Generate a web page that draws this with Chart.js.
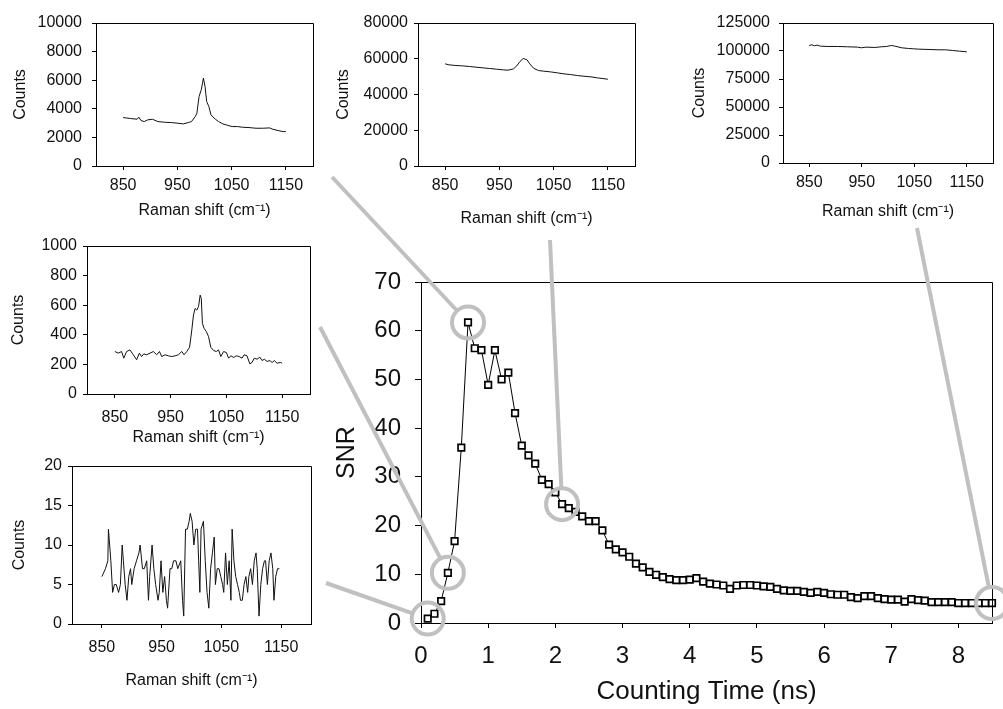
<!DOCTYPE html>
<html>
<head>
<meta charset="utf-8">
<script src="https://cdn.jsdelivr.net/npm/chart.js@4.4.1/dist/chart.umd.min.js"></script>
<style>
  body { margin: 0; background: #fff; }
  #page { position: relative; width: 1003px; height: 709px; overflow: hidden; background: #fff; }
  #page canvas { position: absolute; }
  #overlay { left: 0; top: 0; pointer-events: none; }
</style>
</head>
<body>
<div id="page">
  <canvas id="spec07" width="330" height="230" style="left:0;top:0"></canvas>
  <canvas id="spec21" width="330" height="235" style="left:330px;top:0"></canvas>
  <canvas id="spec85" width="343" height="230" style="left:660px;top:0"></canvas>
  <canvas id="spec04" width="330" height="225" style="left:0;top:230px"></canvas>
  <canvas id="spec01" width="330" height="259" style="left:0;top:450px"></canvas>
  <canvas id="snrChart" width="673" height="449" style="left:330px;top:260px"></canvas>
  <canvas id="overlay" width="1003" height="709"></canvas>
</div>
<script>
// SNR vs counting time
const timeNs = [0.1, 0.2, 0.3, 0.4, 0.5, 0.6, 0.7, 0.8, 0.9, 1.0,
  1.1, 1.2, 1.3, 1.4, 1.5, 1.6, 1.7, 1.8, 1.9, 2.0,
  2.1, 2.2, 2.3, 2.4, 2.5, 2.6, 2.7, 2.8, 2.9, 3.0,
  3.1, 3.2, 3.3, 3.4, 3.5, 3.6, 3.7, 3.8, 3.9, 4.0,
  4.1, 4.2, 4.3, 4.4, 4.5, 4.6, 4.7, 4.8, 4.9, 5.0,
  5.1, 5.2, 5.3, 5.4, 5.5, 5.6, 5.7, 5.8, 5.9, 6.0,
  6.1, 6.2, 6.3, 6.4, 6.5, 6.6, 6.7, 6.8, 6.9, 7.0,
  7.1, 7.2, 7.3, 7.4, 7.5, 7.6, 7.7, 7.8, 7.9, 8.0,
  8.1, 8.2, 8.3, 8.4, 8.5];
const snr = [0.9, 1.9, 4.5, 10.3, 16.8, 36.0, 61.7, 56.4, 56.0, 48.9,
  56.0, 50.0, 51.4, 43.1, 36.4, 34.4, 32.7, 29.4, 28.5, 26.8,
  24.4, 23.6, 22.8, 21.9, 20.9, 20.9, 19.0, 16.1, 15.1, 14.5,
  13.6, 12.2, 11.4, 10.5, 9.9, 9.4, 9.0, 8.8, 8.8, 8.9,
  9.2, 8.5, 8.1, 7.9, 7.7, 7.0, 7.7, 7.8, 7.8, 7.7,
  7.5, 7.4, 7.0, 6.7, 6.6, 6.6, 6.4, 6.2, 6.4, 6.2,
  5.9, 5.8, 5.8, 5.3, 5.1, 5.5, 5.5, 5.1, 4.9, 4.8,
  4.8, 4.4, 4.9, 4.7, 4.6, 4.3, 4.3, 4.3, 4.3, 4.1,
  4.1, 4.1, 4.1, 4.1, 4.1];
const timeTicks = [0, 1, 2, 3, 4, 5, 6, 7, 8];
const snrTicks = [0, 10, 20, 30, 40, 50, 60, 70];

// spectra at the circled times
const shiftTicks = [850, 950, 1050, 1150];

const spec07Shift = [850, 864, 876, 879, 883, 889, 895, 904, 914, 926, 939, 951, 961, 970, 976, 983, 986, 990, 994, 998,
  1001, 1004, 1008, 1012, 1020, 1026, 1034, 1042, 1051, 1061, 1070, 1082, 1095, 1107, 1120, 1126, 1136, 1145, 1150];
const spec07Counts = [3388, 3318, 3271, 3411, 3178, 3107, 3224, 3271, 3107, 3061, 3037, 2991, 2944, 3037, 3107, 3458, 3692, 4860, 5327, 6145,
  5561, 4509, 4159, 3575, 3271, 3107, 2944, 2850, 2757, 2757, 2710, 2687, 2640, 2640, 2664, 2570, 2477, 2407, 2407];
const spec07Ticks = [0, 2000, 4000, 6000, 8000, 10000];

const spec21Shift = [850, 857, 870, 882, 895, 907, 920, 932, 945, 957, 966, 976, 982, 988, 994,
  1001, 1006, 1013, 1022, 1032, 1044, 1057, 1069, 1081, 1094, 1106, 1119, 1131, 1141, 1150];
const spec21Counts = [57150, 56600, 56220, 56030, 55660, 55280, 54900, 54530, 54160, 53780, 53600, 54350, 56030, 58470, 60150,
  59400, 57150, 54720, 53410, 53040, 52660, 52100, 51540, 51160, 50600, 50220, 49850, 49290, 48910, 48540];
const spec21Ticks = [0, 20000, 40000, 60000, 80000];

const spec85Shift = [850, 855, 860, 865, 871, 884, 904, 923, 942, 949, 958, 975, 987,
  997, 1007, 1013, 1026, 1039, 1049, 1058, 1078, 1097, 1110, 1123, 1136, 1150];
const spec85Counts = [104950, 105550, 104650, 105250, 104350, 104050, 104050, 103750, 103450, 102860, 103450, 103150, 103750,
  104050, 104950, 104350, 102860, 102260, 101960, 101660, 101360, 101060, 101060, 100460, 99870, 99270];
const spec85Ticks = [0, 25000, 50000, 75000, 100000, 125000];

const spec04Shift = [850, 856, 862, 866, 871, 877, 883, 889, 894, 898, 902, 907, 913, 919, 925, 930, 934, 940, 946, 952,
  958, 964, 970, 974, 979, 984, 988, 991, 994, 997, 1000, 1003, 1005, 1007, 1010, 1014, 1018, 1022, 1027, 1032,
  1036, 1040, 1045, 1050, 1054, 1058, 1063, 1068, 1073, 1078, 1082, 1087, 1092, 1096, 1100, 1105, 1110, 1114, 1118, 1123,
  1128, 1132, 1136, 1141, 1147, 1150];
const spec04Counts = [287, 276, 287, 242, 287, 298, 265, 231, 276, 253, 271, 265, 276, 287, 265, 287, 253, 265, 258, 253,
  258, 265, 287, 265, 287, 316, 433, 534, 578, 567, 590, 668, 646, 478, 444, 422, 388, 316, 294, 287,
  298, 253, 287, 280, 242, 258, 247, 258, 253, 242, 265, 258, 204, 213, 242, 235, 249, 226, 235, 220,
  226, 213, 226, 208, 213, 208];
const spec04Ticks = [0, 200, 400, 600, 800, 1000];

const spec01Shift = [850, 856, 860, 861, 863, 865, 868, 871, 874, 878, 881, 884, 886, 889, 892, 895, 898, 900, 904, 908,
  912, 914, 918, 921, 925, 928, 930, 934, 937, 940, 944, 946, 949, 952, 955, 958, 960, 964, 967, 970,
  974, 977, 982, 985, 987, 990, 993, 996, 998, 1001, 1004, 1007, 1010, 1012, 1014, 1016, 1020, 1023, 1026, 1029,
  1032, 1035, 1038, 1040, 1043, 1046, 1049, 1052, 1054, 1057, 1060, 1063, 1066, 1068, 1071, 1074, 1077, 1080, 1082, 1085,
  1088, 1091, 1094, 1096, 1099, 1102, 1105, 1108, 1110, 1113, 1116, 1119, 1122, 1124, 1127, 1130, 1133, 1136, 1138, 1141,
  1144, 1147];
const spec01Counts = [6, 7, 8, 12, 10, 8, 4, 5, 5, 4, 5, 10, 8, 5, 3, 6, 7, 5, 7, 8,
  9, 10, 7, 7, 8, 3, 6, 10, 7, 5, 3, 4, 8, 4, 6, 3, 2, 7, 7, 8,
  8, 7, 8, 3, 1, 12, 12, 13, 14, 13, 10, 12, 12, 8, 4, 12, 13, 8, 4, 2,
  7, 9, 11, 5, 7, 7, 6, 5, 4, 9, 5, 8, 3, 12, 8, 6, 5, 4, 3, 3,
  5, 6, 4, 6, 7, 5, 8, 9, 7, 1, 5, 7, 8, 8, 5, 8, 9, 7, 3, 6,
  7, 7];
const spec01Ticks = [0, 5, 10, 15, 20];

// which points are circled, and where each grey link leaves its inset
const circledTimes = [0.1, 0.4, 0.7, 2.1, 8.5];
const linkFrom = [[326, 583], [320, 327], [332, 177], [550, 240], [917, 228]];

const FONT = "'Liberation Sans', Arial, sans-serif";
const INK = '#111';

Chart.defaults.font.family = FONT;
Chart.defaults.color = INK;

// draws the frame round the plot area (top and right sides)
const frame = {
  id: 'frame',
  afterDraw(chart) {
    const a = chart.chartArea;
    const ctx = chart.ctx;
    ctx.save();
    ctx.strokeStyle = '#000';
    ctx.lineWidth = 1;
    const l = Math.round(a.left) + 0.5, r = Math.round(a.right) + 0.5;
    const t = Math.round(a.top) + 0.5, b = Math.round(a.bottom) + 0.5;
    ctx.beginPath();
    ctx.moveTo(l, t);
    ctx.lineTo(r, t);
    ctx.lineTo(r, b);
    ctx.stroke();
    ctx.restore();
  }
};

// fixed axis sizes, so the plot area lands where the figure has it
function fixWidth(w) {
  return (s) => { s.width = w; s.paddingTop = 0; s.paddingBottom = 0; };
}
function fixHeight(h) {
  return (s) => { s.height = h; s.paddingLeft = 0; s.paddingRight = 0; };
}

function makeInset(id, shift, counts, yTicks, g) {
  const pts = [];
  for (let i = 0; i < shift.length; i++) {
    pts.push({ x: shift[i], y: counts[i] });
  }
  return new Chart(document.getElementById(id), {
    type: 'line',
    data: {
      datasets: [{
        data: pts,
        borderColor: '#111',
        borderWidth: 1,
        pointRadius: 0,
        tension: 0,
      }],
    },
    options: {
      responsive: false,
      animation: false,
      devicePixelRatio: 1,
      events: [],
      layout: { padding: { left: 0, top: g.top, right: g.right, bottom: 0 } },
      plugins: { legend: { display: false }, tooltip: { enabled: false } },
      scales: {
        x: {
          type: 'linear',
          min: 800,
          max: 1200,
          afterBuildTicks: (s) => { s.ticks = shiftTicks.map((v) => ({ value: v })); },
          afterFit: fixHeight(g.xH),
          grid: { drawOnChartArea: false, drawTicks: true, tickLength: 4, color: '#000' },
          border: { display: true, color: '#000', width: 1 },
          ticks: { font: { size: 16 }, padding: g.xPad, maxRotation: 0, callback: (v) => String(v) },
          title: { display: true, text: 'Raman shift (cm⁻¹)', font: { size: 16 }, padding: { top: 0, bottom: g.xTitle } },
        },
        y: {
          min: 0,
          max: yTicks[yTicks.length - 1],
          afterBuildTicks: (s) => { s.ticks = yTicks.map((v) => ({ value: v })); },
          afterFit: fixWidth(g.yW),
          grid: { drawOnChartArea: false, drawTicks: true, tickLength: 4, color: '#000' },
          border: { display: true, color: '#000', width: 1 },
          ticks: { font: { size: 16 }, padding: g.yPad, callback: (v) => String(v) },
          title: { display: true, text: 'Counts', font: { size: 16 }, padding: { top: g.yTitle, bottom: 0 } },
        },
      },
    },
    plugins: [frame],
  });
}

makeInset('spec07', spec07Shift, spec07Counts, spec07Ticks, { top: 23, right: 17, xH: 64, yW: 96, xPad: 6, yPad: 10, xTitle: 10, yTitle: 11 });
makeInset('spec21', spec21Shift, spec21Counts, spec21Ticks, { top: 23, right: 25, xH: 69, yW: 88, xPad: 6, yPad: 6, xTitle: 7, yTitle: 4 });
makeInset('spec85', spec85Shift, spec85Counts, spec85Ticks, { top: 23, right: 10, xH: 67, yW: 123, xPad: 6, yPad: 9, xTitle: 9, yTitle: 30 });
makeInset('spec04', spec04Shift, spec04Counts, spec04Ticks, { top: 16, right: 20, xH: 61, yW: 87, xPad: 10, yPad: 6, xTitle: 8, yTitle: 9 });
makeInset('spec01', spec01Shift, spec01Counts, spec01Ticks, { top: 16, right: 19, xH: 85, yW: 72, xPad: 10, yPad: 6, xTitle: 19, yTitle: 10 });

// grey circles and link lines, placed from the main chart's scales
const links = {
  id: 'links',
  afterDraw(chart) {
    const ov = document.getElementById('overlay');
    const ctx = ov.getContext('2d');
    const ox = chart.canvas.offsetLeft, oy = chart.canvas.offsetTop;
    const r = 16;
    ctx.clearRect(0, 0, ov.width, ov.height);
    ctx.strokeStyle = '#c0c0c0';
    ctx.lineWidth = 4;
    for (let i = 0; i < circledTimes.length; i++) {
      const k = timeNs.indexOf(circledTimes[i]);
      const cx = ox + chart.scales.x.getPixelForValue(timeNs[k]);
      const cy = oy + chart.scales.y.getPixelForValue(snr[k]);
      const sx = linkFrom[i][0], sy = linkFrom[i][1];
      const dx = cx - sx, dy = cy - sy;
      const len = Math.sqrt(dx * dx + dy * dy);
      ctx.beginPath();
      ctx.moveTo(sx, sy);
      ctx.lineTo(cx - dx / len * r, cy - dy / len * r);
      ctx.stroke();
      ctx.beginPath();
      ctx.arc(cx, cy, r, 0, Math.PI * 2);
      ctx.stroke();
    }
  }
};

const snrPoints = [];
for (let i = 0; i < timeNs.length; i++) {
  snrPoints.push({ x: timeNs[i], y: snr[i] });
}

new Chart(document.getElementById('snrChart'), {
  type: 'line',
  data: {
    datasets: [{
      data: snrPoints,
      borderColor: '#000',
      borderWidth: 1,
      pointStyle: 'rect',
      pointRadius: 4.6,
      pointBorderWidth: 1.7,
      pointBackgroundColor: '#fff',
      pointBorderColor: '#000',
      tension: 0,
      clip: false,
    }],
  },
  options: {
    responsive: false,
    animation: false,
    devicePixelRatio: 1,
    events: [],
    layout: { padding: { left: 0, top: 22, right: 11, bottom: 0 } },
    plugins: { legend: { display: false }, tooltip: { enabled: false } },
    scales: {
      x: {
        type: 'linear',
        min: 0,
        max: 8.5,
        afterBuildTicks: (s) => { s.ticks = timeTicks.map((v) => ({ value: v })); },
        afterFit: fixHeight(86),
        grid: { drawOnChartArea: false, drawTicks: true, tickLength: 5, color: '#000' },
        border: { display: true, color: '#000', width: 1 },
        ticks: { font: { size: 24 }, padding: 14, maxRotation: 0 },
        title: { display: true, text: 'Counting Time (ns)', font: { size: 26 }, padding: { top: 0, bottom: 2 } },
      },
      y: {
        min: 0,
        max: 70,
        afterBuildTicks: (s) => { s.ticks = snrTicks.map((v) => ({ value: v })); },
        afterFit: fixWidth(91),
        grid: { drawOnChartArea: false, drawTicks: true, tickLength: 6, color: '#000' },
        border: { display: true, color: '#000', width: 1 },
        ticks: { font: { size: 24 }, padding: 14 },
        title: { display: true, text: 'SNR', font: { size: 25 }, padding: { top: 2, bottom: 0 } },
      },
    },
  },
  plugins: [frame, links],
});
</script>
</body>
</html>
